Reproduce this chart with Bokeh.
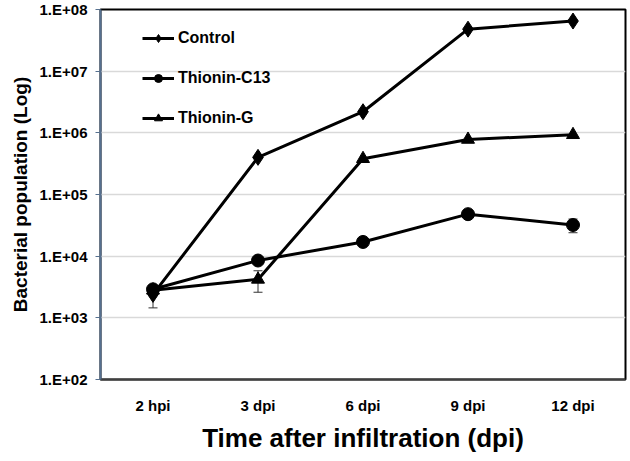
from bokeh.plotting import figure
from bokeh.models import (FactorRange, Range1d, FixedTicker, CustomJSTickFormatter,
                          ColumnDataSource, Whisker, TeeHead, Legend, LegendItem, Title)
from bokeh.embed import file_html
from bokeh.resources import INLINE

categories = ["2 hpi", "3 dpi", "6 dpi", "9 dpi", "12 dpi"]
control = [2.4e3, 4.0e5, 2.2e6, 4.8e7, 6.5e7]
control_sd = [0.95e3, 0, 0, 0, 0]
thionin_c13 = [2.9e3, 8.5e3, 1.7e4, 4.8e4, 3.2e4]
thionin_c13_sd = [0, 0, 0, 0, 0.8e4]
thionin_g = [2.8e3, 4.2e3, 3.8e5, 7.8e5, 9.3e5]
thionin_g_sd = [0, 1.6e3, 0, 0, 0]

y_ticks = [1e2, 1e3, 1e4, 1e5, 1e6, 1e7, 1e8]
y_tick_labels = ["1.E+02", "1.E+03", "1.E+04", "1.E+05", "1.E+06", "1.E+07", "1.E+08"]

x_title = "Time after infiltration (dpi)"
y_title = "Bacterial population (Log)"

FONT = "Liberation Sans"

p = figure(x_range=FactorRange(*categories), y_range=Range1d(1e2, 1e8),
           y_axis_type="log", width=630, height=461,
           output_backend="svg", toolbar_location=None,
           min_border_left=100, min_border_right=5, min_border_top=9, min_border_bottom=82)

p.outline_line_color = "black"
p.outline_line_width = 2
p.background_fill_color = "white"
p.border_fill_color = "white"

p.xgrid.grid_line_color = None
p.ygrid.grid_line_color = "#d9d9d9"
p.ygrid.grid_line_width = 1.5
p.ygrid.ticker = FixedTicker(ticks=y_ticks)

# y axis
p.yaxis.ticker = FixedTicker(ticks=y_ticks, minor_ticks=[])
p.yaxis.formatter = CustomJSTickFormatter(args=dict(tv=y_ticks, lb=y_tick_labels), code="""
    for (let i = 0; i < tv.length; i++) {
        if (Math.abs(Math.log10(tv[i]) - Math.log10(tick)) < 1e-6) return lb[i];
    }
    return "";
""")
p.yaxis.axis_line_color = "#56708f"
p.yaxis.axis_line_width = 2
p.yaxis.major_tick_line_color = "#56708f"
p.yaxis.major_tick_out = 5
p.yaxis.major_tick_in = 0
p.yaxis.minor_tick_line_color = None
p.yaxis.major_label_text_font = FONT
p.yaxis.major_label_text_font_style = "bold"
p.yaxis.major_label_text_font_size = "15px"
p.yaxis.major_label_text_color = "black"
p.yaxis.major_label_standoff = 8
p.yaxis.axis_label = y_title
p.yaxis.axis_label_text_font = FONT
p.yaxis.axis_label_text_font_style = "bold"
p.yaxis.axis_label_text_font_size = "19px"
p.yaxis.axis_label_text_color = "black"
p.yaxis.axis_label_standoff = 6

# x axis
p.xaxis.axis_line_color = "#404040"
p.xaxis.axis_line_width = 2
p.xaxis.major_tick_line_color = None
p.xaxis.major_tick_out = 0
p.xaxis.major_tick_in = 0
p.xaxis.minor_tick_line_color = None
p.xaxis.minor_tick_out = 0
p.xaxis.major_label_text_font = FONT
p.xaxis.major_label_text_font_style = "bold"
p.xaxis.major_label_text_font_size = "15px"
p.xaxis.major_label_text_color = "black"
p.xaxis.major_label_standoff = 17

# x-axis title as a below-panel title, centred on the frame
p.add_layout(Title(text=x_title, align="center", text_font=FONT, text_font_style="bold",
                   text_font_size="26px", text_color="black", standoff=9, offset=0),
             "below")

series = [
    ("Control", control, control_sd, "diamond", 16),
    ("Thionin-C13", thionin_c13, thionin_c13_sd, "circle", 13),
    ("Thionin-G", thionin_g, thionin_g_sd, "triangle", 13),
]

items = []
for name, vals, sds, marker, size in series:
    src = ColumnDataSource(dict(x=categories, y=vals))
    ln = p.line("x", "y", source=src, line_color="black", line_width=3)
    sc = p.scatter("x", "y", source=src, marker=marker, size=size,
                   fill_color="black", line_color="black")
    ex = [c for c, s in zip(categories, sds) if s > 0]
    lo = [v - s for v, s in zip(vals, sds) if s > 0]
    up = [v + s for v, s in zip(vals, sds) if s > 0]
    if ex:
        esrc = ColumnDataSource(dict(x=ex, lower=lo, upper=up))
        w = Whisker(base="x", lower="lower", upper="upper", source=esrc,
                    line_color="#333333", line_width=1,
                    upper_head=TeeHead(size=9, line_color="#333333", line_width=1),
                    lower_head=TeeHead(size=9, line_color="#333333", line_width=1),
                    level="underlay")
        p.add_layout(w)
    items.append(LegendItem(label=name, renderers=[ln, sc]))

legend = Legend(items=items, location=(42, 251), margin=0, padding=0,
                spacing=20, glyph_width=32, glyph_height=20, label_height=20,
                label_standoff=4, border_line_color=None, background_fill_alpha=0,
                label_text_font=FONT, label_text_font_style="bold",
                label_text_font_size="16px", label_text_color="black")
p.add_layout(legend)

open("out.html", "w").write(file_html(p, INLINE))
